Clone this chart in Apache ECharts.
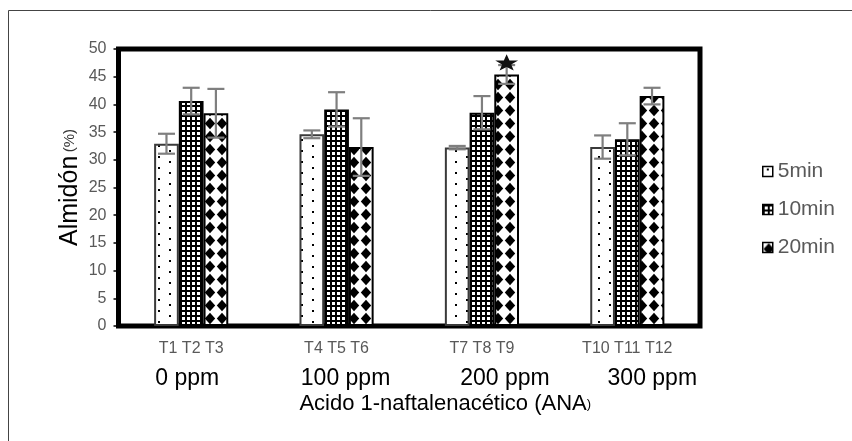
<!DOCTYPE html>
<html><head><meta charset="utf-8">
<script src="https://cdn.jsdelivr.net/npm/echarts@6/dist/echarts.min.js"></script>
<style>html,body{margin:0;padding:0;background:#fff}#c{width:852px;height:441px}</style>
</head><body><div id="c"></div>
<script>
// ---- data ----
const categories = ['T1 T2 T3', 'T4 T5 T6', 'T7 T8 T9', 'T10 T11 T12'];
const doseLabels = ['0 ppm', '100 ppm', '200 ppm', '300 ppm'];
const seriesNames = ['5min', '10min', '20min'];
const values5  = [32.9, 34.6, 32.2, 32.3];
const values10 = [40.6, 39.1, 38.5, 33.7];
const values20 = [38.4, 32.3, 45.4, 41.5];
const err5  = [1.8, 0.7, 0.3, 2.1];
const err10 = [2.4, 3.1, 3.0, 2.9];
const err20 = [4.4, 5.2, 1.7, 1.5];
const star20 = [null, null, 47.6, null];   // significance star above 20min bar
const yMin = 0, yMax = 50, yStep = 5;

const FONT = "'Liberation Sans', Arial, sans-serif";

// ---- fill patterns ----
function makeCanvas(w, h) { const c = document.createElement('canvas'); c.width = w; c.height = h; return c; }
function dotsPattern() {
  const c = makeCanvas(22, 11), g = c.getContext('2d');
  g.fillStyle = '#fff'; g.fillRect(0, 0, 22, 11);
  g.fillStyle = '#000'; g.fillRect(4, 2, 2, 2); g.fillRect(15, 7, 2, 2);
  return c;
}
function gridPattern() {
  const c = makeCanvas(5, 5), g = c.getContext('2d');
  g.fillStyle = '#fff'; g.fillRect(0, 0, 5, 5);
  g.fillStyle = '#000'; g.fillRect(0, 0, 5, 2); g.fillRect(0, 0, 2, 5);
  return c;
}
function diamondPattern() {
  const c = makeCanvas(12, 13), g = c.getContext('2d');
  g.fillStyle = '#fff'; g.fillRect(0, 0, 12, 13);
  g.fillStyle = '#000';
  g.beginPath(); g.moveTo(6, 0.8); g.lineTo(11.2, 6.5); g.lineTo(6, 12.2); g.lineTo(0.8, 6.5); g.closePath(); g.fill();
  return c;
}
const fills = [
  { image: dotsPattern(), repeat: 'repeat' },
  { image: gridPattern(), repeat: 'repeat' },
  { image: diamondPattern(), repeat: 'repeat' }
];
const borders = ['#3a3a3a', '#000', '#000'];
const allValues = [values5, values10, values20];
const allErrs = [err5, err10, err20];

const BAR_FRAC = 0.17;

const barSeries = seriesNames.map((name, k) => ({
  name, type: 'bar', data: allValues[k],
  barWidth: (BAR_FRAC * 100) + '%', barGap: '0%',
  itemStyle: { color: fills[k], borderColor: borders[k], borderWidth: 2 },
  emphasis: { disabled: true }, z: 2
}));

const errData = [];
categories.forEach((c, i) => {
  for (let k = 0; k < 3; k++) {
    const s = (k === 2 && star20[i] != null) ? star20[i] : '-';
    errData.push([i, allValues[k][i], allErrs[k][i], k, s]);
  }
});

const errSeries = {
  type: 'custom', name: 'err', data: errData, z: 5, silent: true,
  encode: { x: 0, y: 1 },
  renderItem(params, api) {
    const cat = api.value(0), mean = api.value(1), err = api.value(2), k = api.value(3), star = api.value(4);
    const band = api.size([1, 0])[0];
    const bw = band * BAR_FRAC;
    const x = api.coord([cat, mean])[0] + (k - 1) * bw;
    const yHi = api.coord([cat, mean + err])[1];
    const yLo = api.coord([cat, mean - err])[1];
    const cap = 8.5;
    const st = { stroke: '#7f7f7f', lineWidth: 2.2 };
    const children = [
      { type: 'line', shape: { x1: x, y1: yHi, x2: x, y2: yLo }, style: st },
      { type: 'line', shape: { x1: x - cap, y1: yHi, x2: x + cap, y2: yHi }, style: st },
      { type: 'line', shape: { x1: x - cap, y1: yLo, x2: x + cap, y2: yLo }, style: st }
    ];
    if (typeof star === 'number' && isFinite(star)) {
      const cy = api.coord([cat, star])[1];
      const pts = [];
      const R = 12, r = 4.8, sy = 0.75;
      for (let j = 0; j < 10; j++) {
        const ang = -Math.PI / 2 + j * Math.PI / 5;
        const rad = j % 2 === 0 ? R : r;
        pts.push([x + rad * Math.cos(ang), cy + 1 + rad * Math.sin(ang) * sy]);
      }
      children.push({ type: 'polygon', shape: { points: pts }, style: { fill: '#111' } });
    }
    return { type: 'group', children };
  }
};

const richX = { t: { fontSize: 16, color: '#595959', lineHeight: 22, fontFamily: FONT } };
const shifts = [[0, 8, 0, 0], [0, 0, 0, 18], [0, 0, 0, 46], [0, 0, 0, 50]];
doseLabels.forEach((d, i) => {
  richX['p' + i] = { fontSize: 23, color: '#000', lineHeight: 38, fontFamily: FONT, padding: shifts[i] };
});

const chart = echarts.init(document.getElementById('c'), null, { renderer: 'canvas' });
chart.setOption({
  animation: false,
  backgroundColor: '#fff',
  textStyle: { fontFamily: FONT },
  grid: { left: 118.5, right: 152, top: 49, bottom: 115, show: true, borderColor: '#000', borderWidth: 5, backgroundColor: 'transparent', containLabel: false },
  legend: {
    data: seriesNames, orient: 'vertical', left: 757, top: 154,
    itemWidth: 10, itemHeight: 10, itemGap: 13, icon: 'rect',
    itemStyle: { borderColor: '#000', borderWidth: 1.5 },
    textStyle: { fontSize: 21, color: '#595959', lineHeight: 25, fontFamily: FONT },
    selectedMode: false
  },
  xAxis: {
    type: 'category', data: categories,
    axisLine: { show: false }, axisTick: { show: false }, splitLine: { show: false },
    axisLabel: {
      interval: 0, margin: 12,
      formatter: (v, i) => `{t|${v}}\n{p${i}|${doseLabels[i]}}`,
      rich: richX
    },
    name: '{a|Acido 1-naftalenacético (ANA}{b|)}',
    nameLocation: 'middle', nameGap: 67, nameMoveOverlap: false,
    nameTextStyle: {
      padding: [0, 0, 0, 72],
      rich: { a: { fontSize: 22, color: '#000', fontFamily: FONT }, b: { fontSize: 13, color: '#000', fontFamily: FONT } }
    }
  },
  yAxis: {
    type: 'value', min: yMin, max: yMax, interval: yStep,
    axisLine: { show: false }, splitLine: { show: false },
    axisTick: { show: true, length: 5, lineStyle: { color: '#000', width: 1.5 } },
    axisLabel: { fontSize: 16, color: '#595959', margin: 12, fontFamily: FONT },
    name: '{a|Almidón} {b|(%)}',
    nameLocation: 'middle', nameRotate: 90, nameGap: 36, nameMoveOverlap: false,
    nameTextStyle: {
      rich: { a: { fontSize: 25, color: '#000', fontFamily: FONT }, b: { fontSize: 15, color: '#333', fontFamily: FONT } }
    }
  },
  graphic: [{
    type: 'rect', shape: { x: 8.5, y: 10.5, width: 860, height: 460 },
    style: { fill: 'none', stroke: '#444', lineWidth: 1 }, silent: true, z: -10
  }],
  series: [...barSeries, errSeries]
});
</script></body></html>
